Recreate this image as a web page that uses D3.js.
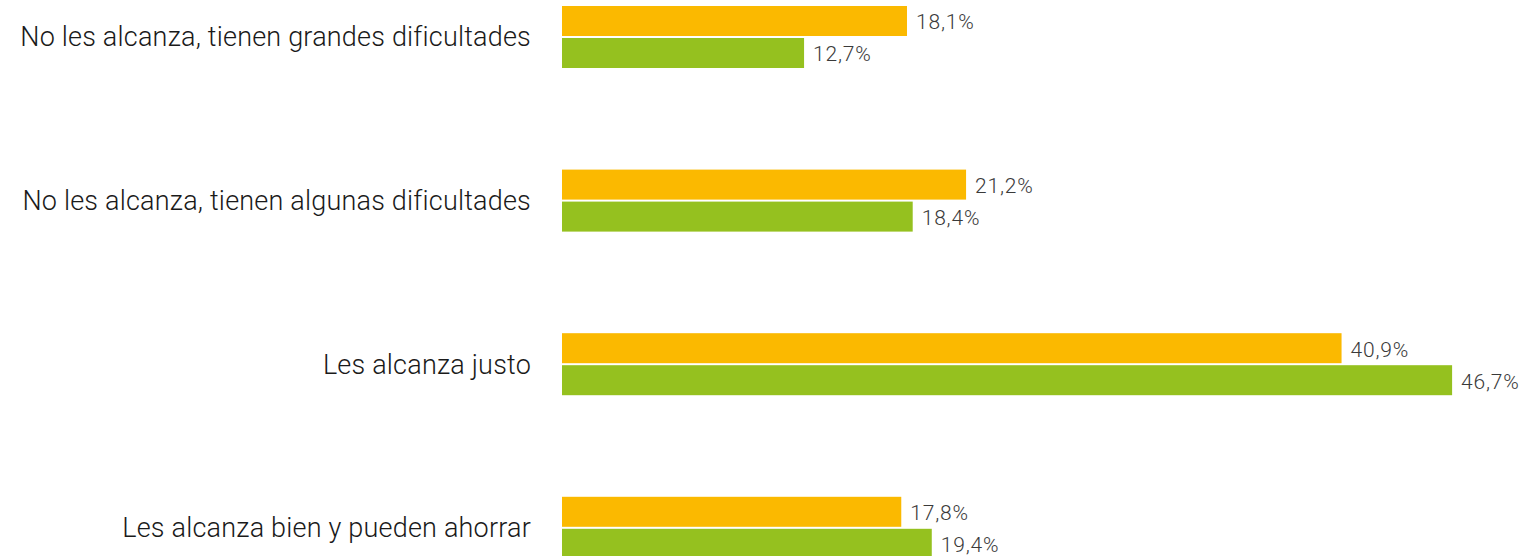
<!DOCTYPE html>
<html>
<head>
<meta charset="utf-8">
<script src="https://cdn.jsdelivr.net/npm/d3@7.9.0/dist/d3.min.js"></script>
<style>
  body { margin: 0; background: #fff; }
  svg { display: block; }
  .cat { font-family: Roboto, "Liberation Sans", sans-serif; font-weight: 300; font-size: 27px; letter-spacing: 0.2px; fill: #1a1a1a; }
  .val { font-family: Roboto, "Liberation Sans", sans-serif; font-weight: 300; font-size: 21px; letter-spacing: 0.8px; fill: #3a3a3a; }
</style>
</head>
<body>
<svg width="1521" height="556"></svg>
<script>
const categories = [
  'No les alcanza, tienen grandes dificultades',
  'No les alcanza, tienen algunas dificultades',
  'Les alcanza justo',
  'Les alcanza bien y pueden ahorrar'
];
const seriesNames = ['Serie 1', 'Serie 2'];
const serie1 = [18.1, 21.2, 40.9, 17.8];
const serie2 = [12.7, 18.4, 46.7, 19.4];
const colors = ['#fbb900', '#95c11f'];

const svg = d3.select('svg');

// rows of data: one per category with both series
let data = categories.map((c, i) => ({
  label: c,
  values: [
    { key: seriesNames[0], value: serie1[i] },
    { key: seriesNames[1], value: serie2[i] }
  ]
}));

let x = d3.scaleLinear().domain([0, 50]).range([562, 1515]);
let y = d3.scaleBand().domain(categories).range([6, 558.8]).paddingInner(0.621).paddingOuter(0);
let y1 = d3.scaleBand().domain(seriesNames).range([0, y.bandwidth()]).paddingInner(0.0625);
let fmt = (v) => d3.format('.1f')(v).replace('.', ',') + '%';

let groups = svg.selectAll('g.group')
  .data(data)
  .join('g')
  .attr('class', 'group')
  .attr('transform', (d) => `translate(0,${y(d.label)})`);

groups.append('text')
  .attr('class', 'cat')
  .attr('x', 531)
  .attr('y', y.bandwidth() / 2)
  .attr('dy', '0.35em')
  .attr('text-anchor', 'end')
  .text((d) => d.label);

groups.selectAll('rect')
  .data((d) => d.values)
  .join('rect')
  .attr('x', x(0))
  .attr('y', (d) => y1(d.key))
  .attr('width', (d) => x(d.value) - x(0))
  .attr('height', y1.bandwidth())
  .attr('fill', (d, i) => colors[i]);

groups.selectAll('text.val')
  .data((d) => d.values)
  .join('text')
  .attr('class', 'val')
  .attr('x', (d) => x(d.value) + 9)
  .attr('y', (d) => y1(d.key) + y1.bandwidth() / 2 + 1)
  .attr('dy', '0.35em')
  .text((d) => fmt(d.value));
</script>
</body>
</html>
